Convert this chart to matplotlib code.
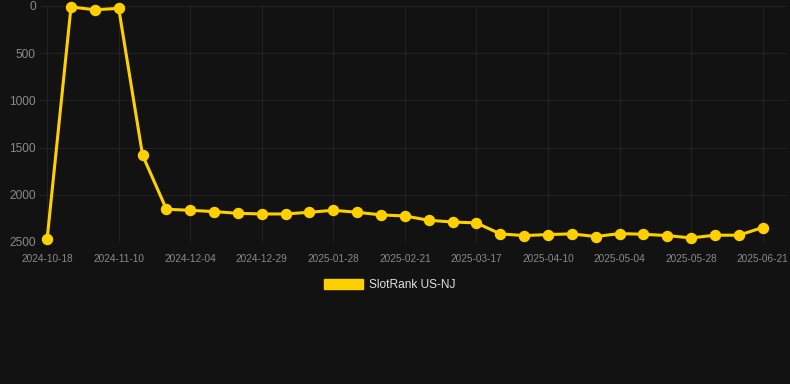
import matplotlib
matplotlib.use("Agg")
import matplotlib.pyplot as plt
from matplotlib.patches import Patch

# weekly-ish snapshots, category axis (only every 3rd label shown)
dates = [
    "2024-10-18", "2024-10-26", "2024-11-02", "2024-11-10", "2024-11-18",
    "2024-11-26", "2024-12-04", "2024-12-12", "2024-12-20", "2024-12-29",
    "2025-01-08", "2025-01-18", "2025-01-28", "2025-02-05", "2025-02-13",
    "2025-02-21", "2025-03-01", "2025-03-09", "2025-03-17", "2025-03-25",
    "2025-04-02", "2025-04-10", "2025-04-18", "2025-04-26", "2025-05-04",
    "2025-05-12", "2025-05-20", "2025-05-28", "2025-06-05", "2025-06-13",
    "2025-06-21",
]
ranks = [
    2465, 10, 40, 25, 1580, 2153, 2164, 2178, 2196, 2203, 2203,
    2185, 2164, 2185, 2213, 2224, 2270, 2288, 2298, 2414, 2432,
    2421, 2414, 2442, 2411, 2418, 2432, 2457, 2428, 2428, 2347,
]
series_label = "SlotRank US-NJ"

plt.rcParams["font.family"] = ["Liberation Sans", "DejaVu Sans"]

BG = "#121212"
GRID = "#222222"
TICK = "#8a8a8a"
GOLD = "#ffd000"

W, H = 790, 384
fig = plt.figure(figsize=(W / 100, H / 100), dpi=100, facecolor=BG)
ax = fig.add_axes([40 / W, (H - 242) / H, (786 - 40) / W, (242 - 6) / H])
ax.set_facecolor(BG)

x = list(range(len(dates)))
ax.plot(x, ranks, color=GOLD, linewidth=2.2, marker="o", markersize=7.2,
        markerfacecolor=GOLD, markeredgecolor=GOLD, clip_on=False, zorder=3)

ax.set_ylim(2500, 0)
ax.set_yticks([0, 500, 1000, 1500, 2000, 2500])
ax.set_xlim(-0.3, 30.98)
ax.set_xticks(x[::3])
ax.set_xticklabels(dates[::3])

ax.grid(True, color=GRID, linewidth=0.8)
ax.set_axisbelow(True)
for s in ax.spines.values():
    s.set_visible(False)
ax.tick_params(axis="y", colors=TICK, labelsize=8.6, length=0, pad=3)
ax.tick_params(axis="x", colors=TICK, labelsize=7.2, length=0, pad=9)

fig.legend(handles=[Patch(facecolor=GOLD, edgecolor=GOLD, label=series_label)],
           loc="center", bbox_to_anchor=(390 / W, 1 - 285 / H), frameon=False,
           handlelength=3.3, handleheight=0.9, handletextpad=0.5,
           prop={"size": 8.6}, labelcolor="#e0e0e0")

fig.savefig("out.png", dpi=100, facecolor=BG)
